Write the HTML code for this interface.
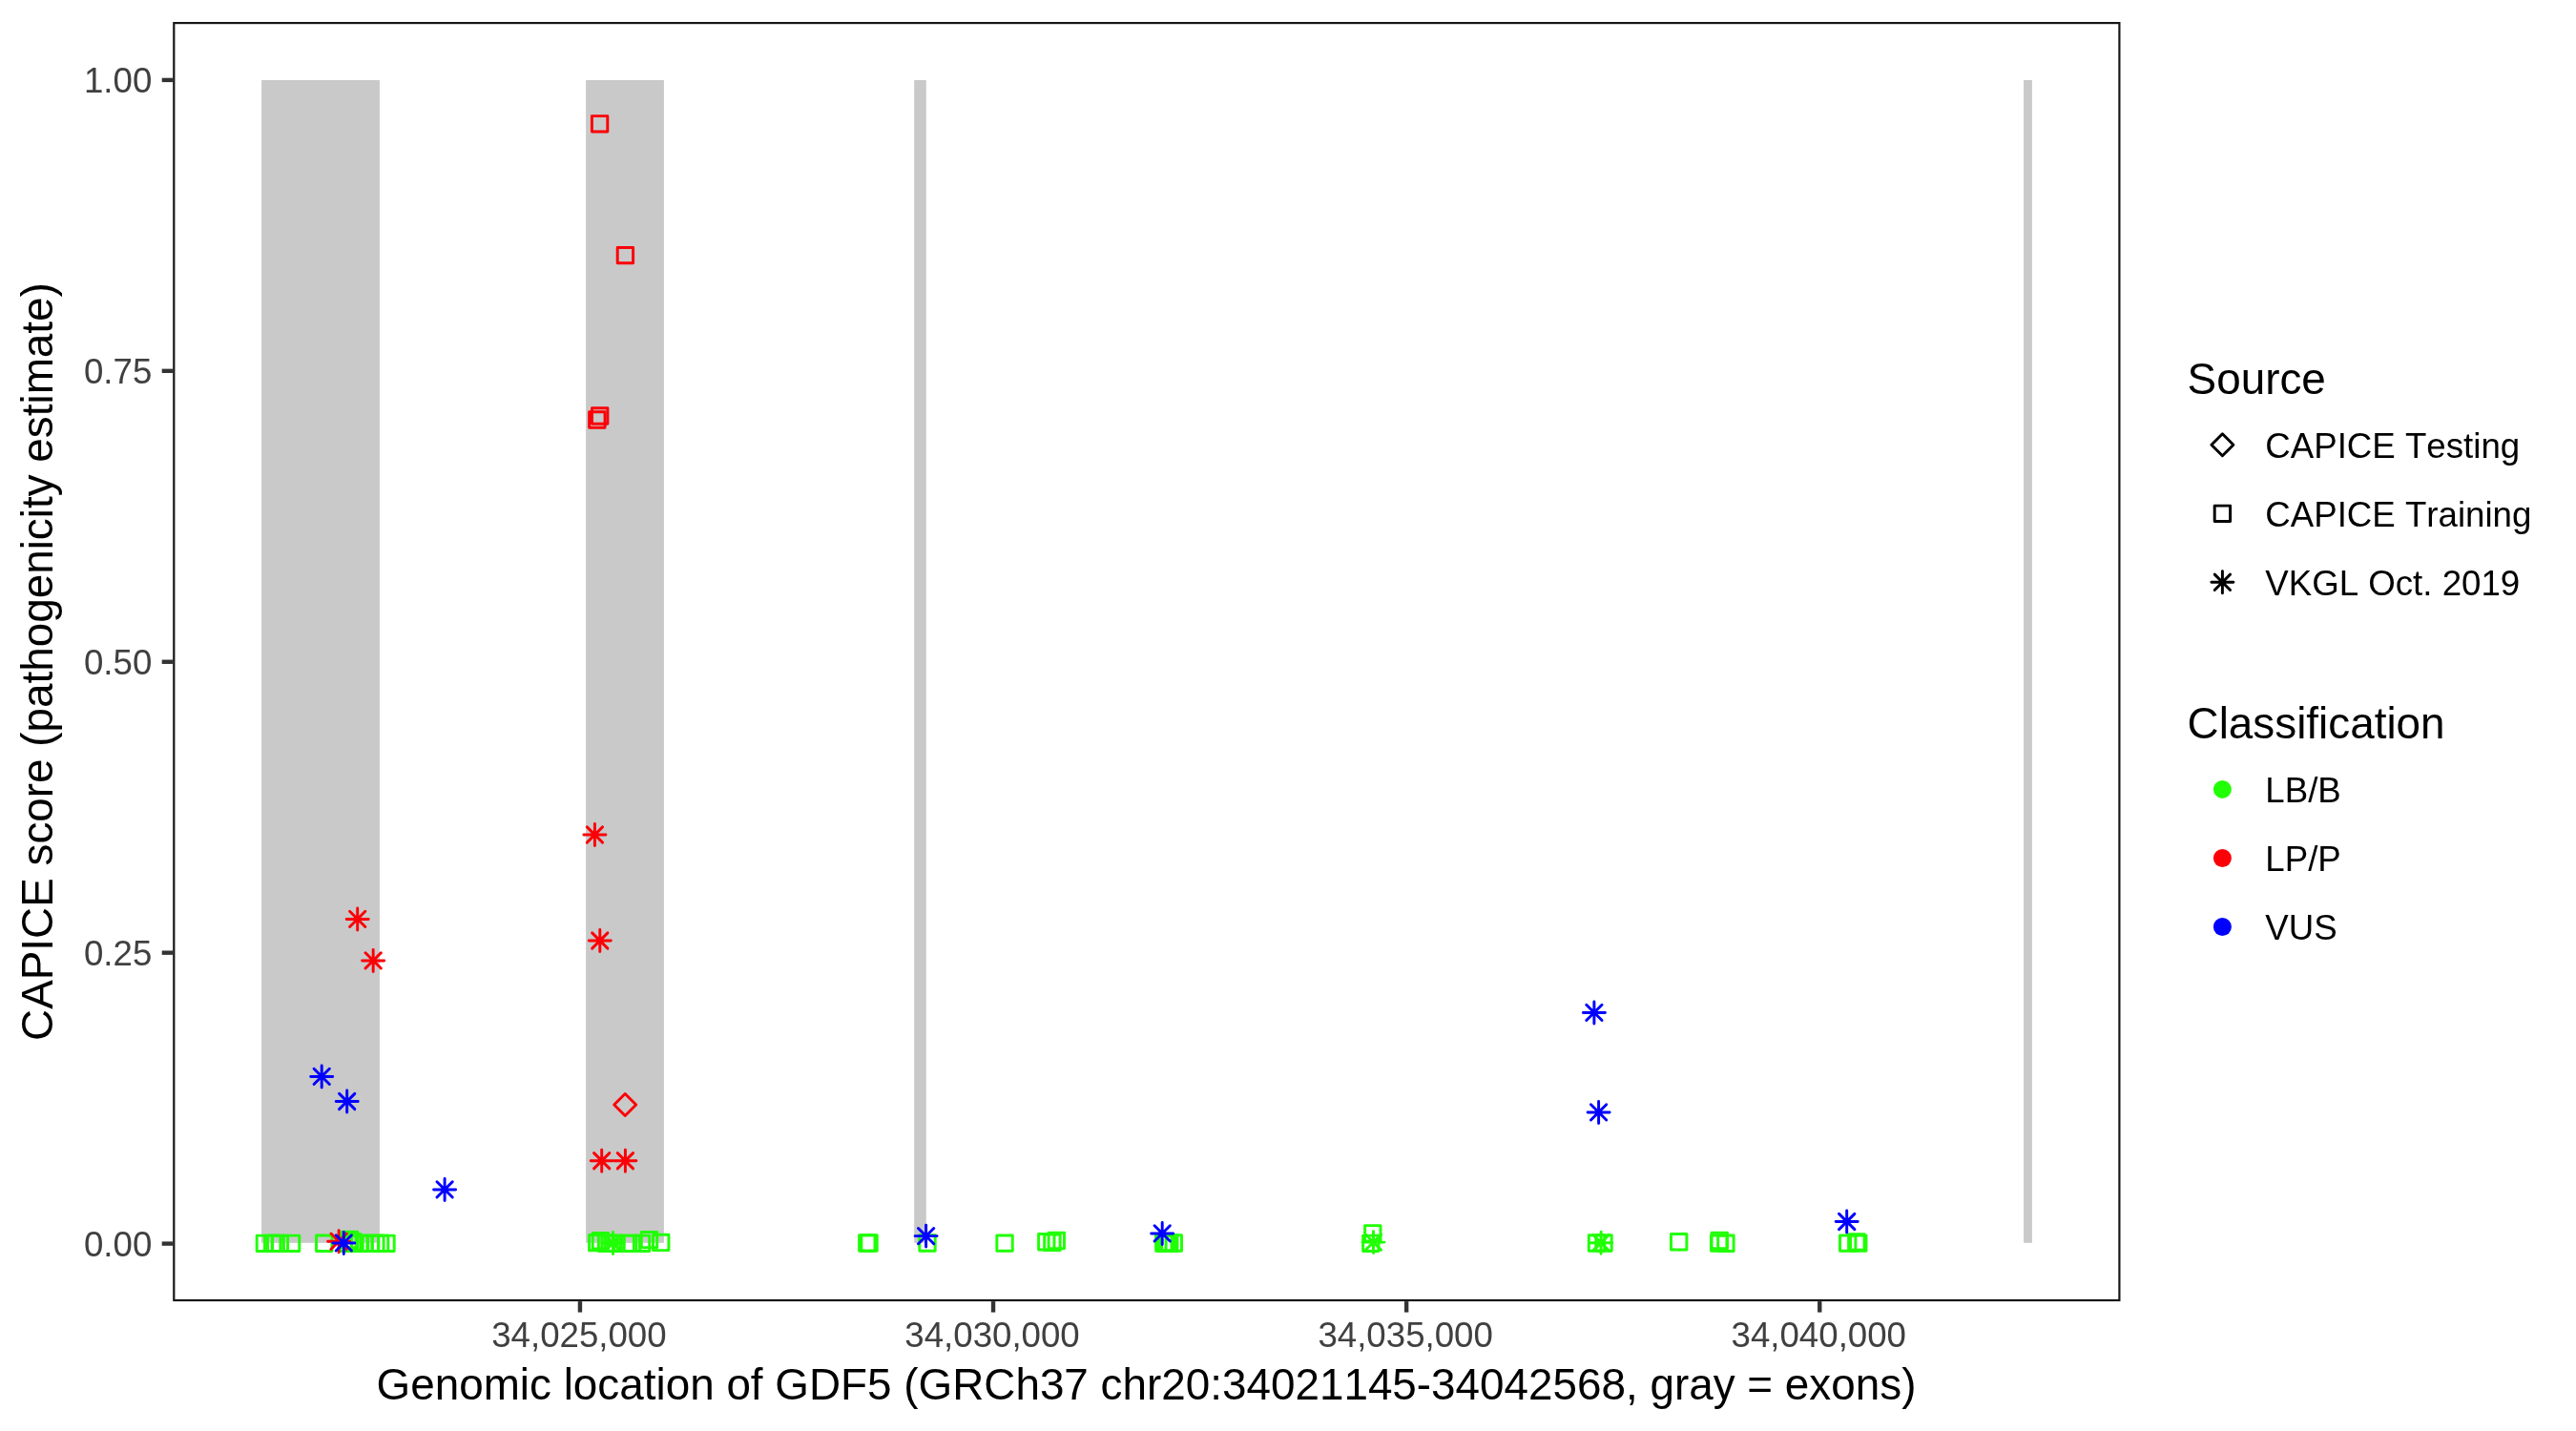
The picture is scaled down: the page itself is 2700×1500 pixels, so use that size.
<!DOCTYPE html>
<html><head><meta charset="utf-8"><title>GDF5 CAPICE</title>
<style>html,body{margin:0;padding:0;background:#fff;}svg{display:block;will-change:transform;}text{font-family:"Liberation Sans",sans-serif;font-kerning:none;}</style></head><body>
<svg width="2700" height="1500" viewBox="0 0 2700 1500">
<rect x="0" y="0" width="2700" height="1500" fill="#fff"/>
<rect x="274.1" y="84.0" width="123.8" height="1218.8" fill="#C9C9C9"/>
<rect x="614.1" y="84.0" width="81.8" height="1218.8" fill="#C9C9C9"/>
<rect x="958.2" y="84.0" width="12.6" height="1218.8" fill="#C9C9C9"/>
<rect x="2121.1" y="84.0" width="8.8" height="1218.8" fill="#C9C9C9"/>
<g id="pts">
<rect x="269.20" y="1295.10" width="16.40" height="16.40" fill="none" stroke="#21FF06" stroke-width="2.95" stroke-linejoin="round"/>
<rect x="277.50" y="1295.10" width="16.40" height="16.40" fill="none" stroke="#21FF06" stroke-width="2.95" stroke-linejoin="round"/>
<rect x="280.50" y="1295.10" width="16.40" height="16.40" fill="none" stroke="#21FF06" stroke-width="2.95" stroke-linejoin="round"/>
<rect x="285.20" y="1295.10" width="16.40" height="16.40" fill="none" stroke="#21FF06" stroke-width="2.95" stroke-linejoin="round"/>
<rect x="297.40" y="1295.10" width="16.40" height="16.40" fill="none" stroke="#21FF06" stroke-width="2.95" stroke-linejoin="round"/>
<rect x="331.55" y="1295.00" width="16.40" height="16.40" fill="none" stroke="#21FF06" stroke-width="2.95" stroke-linejoin="round"/>
<rect x="358.30" y="1291.20" width="16.40" height="16.40" fill="none" stroke="#21FF06" stroke-width="2.95" stroke-linejoin="round"/>
<rect x="361.40" y="1293.50" width="16.40" height="16.40" fill="none" stroke="#21FF06" stroke-width="2.95" stroke-linejoin="round"/>
<rect x="356.90" y="1295.10" width="16.40" height="16.40" fill="none" stroke="#21FF06" stroke-width="2.95" stroke-linejoin="round"/>
<rect x="362.90" y="1295.10" width="16.40" height="16.40" fill="none" stroke="#21FF06" stroke-width="2.95" stroke-linejoin="round"/>
<rect x="368.50" y="1295.10" width="16.40" height="16.40" fill="none" stroke="#21FF06" stroke-width="2.95" stroke-linejoin="round"/>
<rect x="373.60" y="1295.10" width="16.40" height="16.40" fill="none" stroke="#21FF06" stroke-width="2.95" stroke-linejoin="round"/>
<rect x="380.20" y="1295.10" width="16.40" height="16.40" fill="none" stroke="#21FF06" stroke-width="2.95" stroke-linejoin="round"/>
<rect x="385.70" y="1295.10" width="16.40" height="16.40" fill="none" stroke="#21FF06" stroke-width="2.95" stroke-linejoin="round"/>
<rect x="390.40" y="1295.10" width="16.40" height="16.40" fill="none" stroke="#21FF06" stroke-width="2.95" stroke-linejoin="round"/>
<rect x="396.80" y="1295.10" width="16.40" height="16.40" fill="none" stroke="#21FF06" stroke-width="2.95" stroke-linejoin="round"/>
<rect x="617.55" y="1294.40" width="16.40" height="16.40" fill="none" stroke="#21FF06" stroke-width="2.95" stroke-linejoin="round"/>
<rect x="621.25" y="1292.45" width="16.40" height="16.40" fill="none" stroke="#21FF06" stroke-width="2.95" stroke-linejoin="round"/>
<rect x="627.35" y="1295.10" width="16.40" height="16.40" fill="none" stroke="#21FF06" stroke-width="2.95" stroke-linejoin="round"/>
<rect x="630.80" y="1295.10" width="16.40" height="16.40" fill="none" stroke="#21FF06" stroke-width="2.95" stroke-linejoin="round"/>
<rect x="634.26" y="1295.10" width="16.40" height="16.40" fill="none" stroke="#21FF06" stroke-width="2.95" stroke-linejoin="round"/>
<rect x="637.30" y="1295.10" width="16.40" height="16.40" fill="none" stroke="#21FF06" stroke-width="2.95" stroke-linejoin="round"/>
<rect x="654.15" y="1295.10" width="16.40" height="16.40" fill="none" stroke="#21FF06" stroke-width="2.95" stroke-linejoin="round"/>
<rect x="664.35" y="1295.10" width="16.40" height="16.40" fill="none" stroke="#21FF06" stroke-width="2.95" stroke-linejoin="round"/>
<rect x="650.45" y="1295.10" width="16.40" height="16.40" fill="none" stroke="#21FF06" stroke-width="2.95" stroke-linejoin="round"/>
<rect x="672.30" y="1291.40" width="16.40" height="16.40" fill="none" stroke="#21FF06" stroke-width="2.95" stroke-linejoin="round"/>
<rect x="684.53" y="1294.20" width="16.40" height="16.40" fill="none" stroke="#21FF06" stroke-width="2.95" stroke-linejoin="round"/>
<rect x="900.60" y="1294.80" width="16.40" height="16.40" fill="none" stroke="#21FF06" stroke-width="2.95" stroke-linejoin="round"/>
<rect x="902.85" y="1294.80" width="16.40" height="16.40" fill="none" stroke="#21FF06" stroke-width="2.95" stroke-linejoin="round"/>
<rect x="963.80" y="1294.80" width="16.40" height="16.40" fill="none" stroke="#21FF06" stroke-width="2.95" stroke-linejoin="round"/>
<rect x="1044.86" y="1294.90" width="16.40" height="16.40" fill="none" stroke="#21FF06" stroke-width="2.95" stroke-linejoin="round"/>
<rect x="1088.60" y="1293.50" width="16.40" height="16.40" fill="none" stroke="#21FF06" stroke-width="2.95" stroke-linejoin="round"/>
<rect x="1094.70" y="1294.00" width="16.40" height="16.40" fill="none" stroke="#21FF06" stroke-width="2.95" stroke-linejoin="round"/>
<rect x="1099.10" y="1292.30" width="16.40" height="16.40" fill="none" stroke="#21FF06" stroke-width="2.95" stroke-linejoin="round"/>
<rect x="1211.60" y="1294.80" width="16.40" height="16.40" fill="none" stroke="#21FF06" stroke-width="2.95" stroke-linejoin="round"/>
<rect x="1213.10" y="1294.80" width="16.40" height="16.40" fill="none" stroke="#21FF06" stroke-width="2.95" stroke-linejoin="round"/>
<rect x="1214.60" y="1294.80" width="16.40" height="16.40" fill="none" stroke="#21FF06" stroke-width="2.95" stroke-linejoin="round"/>
<rect x="1216.10" y="1294.80" width="16.40" height="16.40" fill="none" stroke="#21FF06" stroke-width="2.95" stroke-linejoin="round"/>
<rect x="1217.60" y="1294.80" width="16.40" height="16.40" fill="none" stroke="#21FF06" stroke-width="2.95" stroke-linejoin="round"/>
<rect x="1222.10" y="1294.80" width="16.40" height="16.40" fill="none" stroke="#21FF06" stroke-width="2.95" stroke-linejoin="round"/>
<rect x="1430.60" y="1284.60" width="16.40" height="16.40" fill="none" stroke="#21FF06" stroke-width="2.95" stroke-linejoin="round"/>
<rect x="1428.60" y="1295.10" width="16.40" height="16.40" fill="none" stroke="#21FF06" stroke-width="2.95" stroke-linejoin="round"/>
<rect x="1665.30" y="1294.80" width="16.40" height="16.40" fill="none" stroke="#21FF06" stroke-width="2.95" stroke-linejoin="round"/>
<rect x="1672.80" y="1294.80" width="16.40" height="16.40" fill="none" stroke="#21FF06" stroke-width="2.95" stroke-linejoin="round"/>
<rect x="1751.50" y="1293.50" width="16.40" height="16.40" fill="none" stroke="#21FF06" stroke-width="2.95" stroke-linejoin="round"/>
<rect x="1793.50" y="1294.90" width="16.40" height="16.40" fill="none" stroke="#21FF06" stroke-width="2.95" stroke-linejoin="round"/>
<rect x="1794.10" y="1292.30" width="16.40" height="16.40" fill="none" stroke="#21FF06" stroke-width="2.95" stroke-linejoin="round"/>
<rect x="1800.70" y="1295.00" width="16.40" height="16.40" fill="none" stroke="#21FF06" stroke-width="2.95" stroke-linejoin="round"/>
<rect x="1928.50" y="1294.90" width="16.40" height="16.40" fill="none" stroke="#21FF06" stroke-width="2.95" stroke-linejoin="round"/>
<rect x="1937.65" y="1293.70" width="16.40" height="16.40" fill="none" stroke="#21FF06" stroke-width="2.95" stroke-linejoin="round"/>
<rect x="1939.60" y="1294.90" width="16.40" height="16.40" fill="none" stroke="#21FF06" stroke-width="2.95" stroke-linejoin="round"/>
<path d="M634.36 1294.76L650.64 1311.04M650.64 1294.76L634.36 1311.04M631.00 1302.90L654.00 1302.90M642.50 1291.40L642.50 1314.40" fill="none" stroke="#21FF06" stroke-width="2.95" stroke-linecap="round"/>
<path d="M1431.36 1293.96L1447.64 1310.24M1447.64 1293.96L1431.36 1310.24M1428.00 1302.10L1451.00 1302.10M1439.50 1290.60L1439.50 1313.60" fill="none" stroke="#21FF06" stroke-width="2.95" stroke-linecap="round"/>
<path d="M1669.96 1294.56L1686.24 1310.84M1686.24 1294.56L1669.96 1310.84M1666.60 1302.70L1689.60 1302.70M1678.10 1291.20L1678.10 1314.20" fill="none" stroke="#21FF06" stroke-width="2.95" stroke-linecap="round"/>
<rect x="620.40" y="121.60" width="16.40" height="16.40" fill="none" stroke="#FB0007" stroke-width="2.95" stroke-linejoin="round"/>
<rect x="647.20" y="259.40" width="16.40" height="16.40" fill="none" stroke="#FB0007" stroke-width="2.95" stroke-linejoin="round"/>
<rect x="617.65" y="431.80" width="16.40" height="16.40" fill="none" stroke="#FB0007" stroke-width="2.95" stroke-linejoin="round"/>
<rect x="620.50" y="427.80" width="16.40" height="16.40" fill="none" stroke="#FB0007" stroke-width="2.95" stroke-linejoin="round"/>
<path d="M366.56 955.26L382.84 971.54M382.84 955.26L366.56 971.54M363.20 963.40L386.20 963.40M374.70 951.90L374.70 974.90" fill="none" stroke="#FB0007" stroke-width="2.95" stroke-linecap="round"/>
<path d="M383.01 998.76L399.29 1015.04M399.29 998.76L383.01 1015.04M379.65 1006.90L402.65 1006.90M391.15 995.40L391.15 1018.40" fill="none" stroke="#FB0007" stroke-width="2.95" stroke-linecap="round"/>
<path d="M615.26 866.86L631.54 883.14M631.54 866.86L615.26 883.14M611.90 875.00L634.90 875.00M623.40 863.50L623.40 886.50" fill="none" stroke="#FB0007" stroke-width="2.95" stroke-linecap="round"/>
<path d="M620.66 977.86L636.94 994.14M636.94 977.86L620.66 994.14M617.30 986.00L640.30 986.00M628.80 974.50L628.80 997.50" fill="none" stroke="#FB0007" stroke-width="2.95" stroke-linecap="round"/>
<path d="M622.56 1208.61L638.84 1224.89M638.84 1208.61L622.56 1224.89M619.20 1216.75L642.20 1216.75M630.70 1205.25L630.70 1228.25" fill="none" stroke="#FB0007" stroke-width="2.95" stroke-linecap="round"/>
<path d="M647.26 1208.61L663.54 1224.89M663.54 1208.61L647.26 1224.89M643.90 1216.75L666.90 1216.75M655.40 1205.25L655.40 1228.25" fill="none" stroke="#FB0007" stroke-width="2.95" stroke-linecap="round"/>
<path d="M346.96 1293.06L363.24 1309.34M363.24 1293.06L346.96 1309.34M343.60 1301.20L366.60 1301.20M355.10 1289.70L355.10 1312.70" fill="none" stroke="#FB0007" stroke-width="2.95" stroke-linecap="round"/>
<path d="M643.70 1158.00L655.20 1146.50L666.70 1158.00L655.20 1169.50Z" fill="none" stroke="#FB0007" stroke-width="2.95" stroke-linejoin="round"/>
<path d="M329.06 1120.26L345.34 1136.54M345.34 1120.26L329.06 1136.54M325.70 1128.40L348.70 1128.40M337.20 1116.90L337.20 1139.90" fill="none" stroke="#0000FF" stroke-width="2.95" stroke-linecap="round"/>
<path d="M355.56 1146.36L371.84 1162.64M371.84 1146.36L355.56 1162.64M352.20 1154.50L375.20 1154.50M363.70 1143.00L363.70 1166.00" fill="none" stroke="#0000FF" stroke-width="2.95" stroke-linecap="round"/>
<path d="M457.96 1238.76L474.24 1255.04M474.24 1238.76L457.96 1255.04M454.60 1246.90L477.60 1246.90M466.10 1235.40L466.10 1258.40" fill="none" stroke="#0000FF" stroke-width="2.95" stroke-linecap="round"/>
<path d="M352.16 1294.76L368.44 1311.04M368.44 1294.76L352.16 1311.04M348.80 1302.90L371.80 1302.90M360.30 1291.40L360.30 1314.40" fill="none" stroke="#0000FF" stroke-width="2.95" stroke-linecap="round"/>
<path d="M962.46 1287.46L978.74 1303.74M978.74 1287.46L962.46 1303.74M959.10 1295.60L982.10 1295.60M970.60 1284.10L970.60 1307.10" fill="none" stroke="#0000FF" stroke-width="2.95" stroke-linecap="round"/>
<path d="M1210.06 1284.76L1226.34 1301.04M1226.34 1284.76L1210.06 1301.04M1206.70 1292.90L1229.70 1292.90M1218.20 1281.40L1218.20 1304.40" fill="none" stroke="#0000FF" stroke-width="2.95" stroke-linecap="round"/>
<path d="M1662.76 1053.26L1679.04 1069.54M1679.04 1053.26L1662.76 1069.54M1659.40 1061.40L1682.40 1061.40M1670.90 1049.90L1670.90 1072.90" fill="none" stroke="#0000FF" stroke-width="2.95" stroke-linecap="round"/>
<path d="M1667.46 1157.76L1683.74 1174.04M1683.74 1157.76L1667.46 1174.04M1664.10 1165.90L1687.10 1165.90M1675.60 1154.40L1675.60 1177.40" fill="none" stroke="#0000FF" stroke-width="2.95" stroke-linecap="round"/>
<path d="M1927.56 1272.36L1943.84 1288.64M1943.84 1272.36L1927.56 1288.64M1924.20 1280.50L1947.20 1280.50M1935.70 1269.00L1935.70 1292.00" fill="none" stroke="#0000FF" stroke-width="2.95" stroke-linecap="round"/>
</g>
<rect x="182.30" y="24.10" width="2039.10" height="1338.90" fill="none" stroke="#161616" stroke-width="2.2"/>
<line x1="169.70" y1="1303.60" x2="181.20" y2="1303.60" stroke="#333333" stroke-width="4.4"/>
<text x="159.3" y="1317" font-size="36.67" fill="#404040" text-anchor="end">0.00</text>
<line x1="169.70" y1="998.67" x2="181.20" y2="998.67" stroke="#333333" stroke-width="4.4"/>
<text x="159.3" y="1012" font-size="36.67" fill="#404040" text-anchor="end">0.25</text>
<line x1="169.70" y1="693.75" x2="181.20" y2="693.75" stroke="#333333" stroke-width="4.4"/>
<text x="159.3" y="707" font-size="36.67" fill="#404040" text-anchor="end">0.50</text>
<line x1="169.70" y1="388.82" x2="181.20" y2="388.82" stroke="#333333" stroke-width="4.4"/>
<text x="159.3" y="402" font-size="36.67" fill="#404040" text-anchor="end">0.75</text>
<line x1="169.70" y1="83.90" x2="181.20" y2="83.90" stroke="#333333" stroke-width="4.4"/>
<text x="159.3" y="97" font-size="36.67" fill="#404040" text-anchor="end">1.00</text>
<line x1="607.93" y1="1364.10" x2="607.93" y2="1375.60" stroke="#333333" stroke-width="4.4"/>
<text x="606.93" y="1412" font-size="36.67" fill="#404040" text-anchor="middle">34,025,000</text>
<line x1="1041.04" y1="1364.10" x2="1041.04" y2="1375.60" stroke="#333333" stroke-width="4.4"/>
<text x="1040.04" y="1412" font-size="36.67" fill="#404040" text-anchor="middle">34,030,000</text>
<line x1="1474.15" y1="1364.10" x2="1474.15" y2="1375.60" stroke="#333333" stroke-width="4.4"/>
<text x="1473.15" y="1412" font-size="36.67" fill="#404040" text-anchor="middle">34,035,000</text>
<line x1="1907.26" y1="1364.10" x2="1907.26" y2="1375.60" stroke="#333333" stroke-width="4.4"/>
<text x="1906.26" y="1412" font-size="36.67" fill="#404040" text-anchor="middle">34,040,000</text>
<text x="1201.5" y="1467.2" font-size="45.83" fill="#000" text-anchor="middle">Genomic location of GDF5 (GRCh37 chr20:34021145-34042568, gray = exons)</text>
<text transform="translate(55.3 693.55) rotate(-90)" font-size="45.83" fill="#000" text-anchor="middle">CAPICE score (pathogenicity estimate)</text>
<text x="2292.6" y="412.8" font-size="45.83" fill="#000">Source</text>
<path d="M2317.90 466.30L2329.40 454.80L2340.90 466.30L2329.40 477.80Z" fill="none" stroke="#000" stroke-width="2.95" stroke-linejoin="round"/>
<rect x="2321.20" y="530.10" width="16.40" height="16.40" fill="none" stroke="#000" stroke-width="2.95" stroke-linejoin="round"/>
<path d="M2321.26 602.16L2337.54 618.44M2337.54 602.16L2321.26 618.44M2317.90 610.30L2340.90 610.30M2329.40 598.80L2329.40 621.80" fill="none" stroke="#000" stroke-width="2.95" stroke-linecap="round"/>
<text x="2374.3" y="480" font-size="36.67" fill="#000">CAPICE Testing</text>
<text x="2374.3" y="552" font-size="36.67" fill="#000">CAPICE Training</text>
<text x="2374.3" y="623.8" font-size="36.67" fill="#000">VKGL Oct. 2019</text>
<text x="2292.6" y="773.9" font-size="45.83" fill="#000">Classification</text>
<circle cx="2329.4" cy="827.4" r="9.5" fill="#21FF06"/>
<text x="2374.3" y="840.6" font-size="36.67" fill="#000">LB/B</text>
<circle cx="2329.4" cy="899.5" r="9.5" fill="#FB0007"/>
<text x="2374.3" y="912.7" font-size="36.67" fill="#000">LP/P</text>
<circle cx="2329.4" cy="971.5" r="9.5" fill="#0000FF"/>
<text x="2374.3" y="984.7" font-size="36.67" fill="#000">VUS</text>
</svg></body></html>
